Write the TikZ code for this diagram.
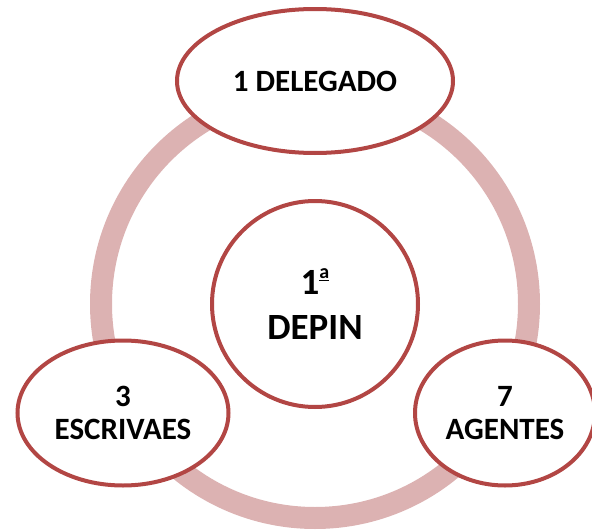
\documentclass[tikz,border=0pt]{standalone}
\usepackage{fontspec}
\setmainfont{Carlito}
\usetikzlibrary{shapes.geometric,positioning}
\definecolor{bordercolor}{RGB}{178,70,68}
\definecolor{ringcolor}{RGB}{220,178,178}
\tikzstyle{hub} = [draw=bordercolor, fill=white, circle, line width=4pt, minimum size=206pt, inner sep=0pt, align=center, font=\fontsize{37}{45}\selectfont\bfseries]
\tikzstyle{member} = [draw=bordercolor, fill=white, ellipse, line width=4pt, inner sep=0pt, align=center, font=\fontsize{31}{33}\selectfont\bfseries]

\begin{document}
\begin{tikzpicture}[node distance=223pt]
\useasboundingbox (0,0) rectangle (592pt,-530pt);
\node [hub] (depin) at (315pt,-304pt) {1\raisebox{0.9ex}{\fontsize{20}{20}\selectfont\underline{a}}\\DEPIN};
\draw [ringcolor, line width=22pt] (depin.center) circle (214pt);

\node [member, above of=depin, minimum width=276pt, minimum height=144pt] (delegado) {1 DELEGADO};
\node [member, below of=depin, node distance=109pt, xshift=-192pt, minimum width=211pt, minimum height=145pt] (escrivaes) {3\\ESCRIVAES};
\node [member, below of=depin, node distance=109pt, xshift=190pt, minimum width=180pt, minimum height=145pt] (agentes) {7\\AGENTES};
\end{tikzpicture}
\end{document}
